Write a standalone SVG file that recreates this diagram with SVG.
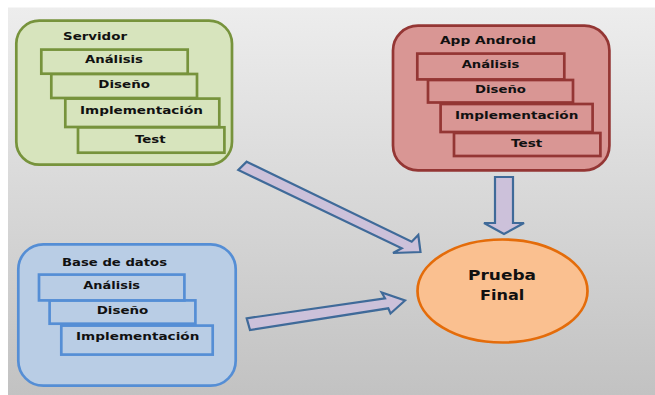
<svg xmlns="http://www.w3.org/2000/svg" width="655" height="395" viewBox="0 0 655 395">
  <defs>
    <linearGradient id="bg" x1="0" y1="0" x2="0" y2="1">
      <stop offset="0" stop-color="#ededed"/>
      <stop offset="1" stop-color="#c2c2c2"/>
    </linearGradient>
  </defs>
  <style>
    text { font-family: "DejaVu Sans", "Verdana", sans-serif; font-weight: bold; font-size: 11px; fill: #111111; }
    .c { text-anchor: middle; }
    .title { text-anchor: middle; }
    .green { fill: #d7e4bd; stroke: #77933c; stroke-width: 2.7; }
    .red { fill: #d99694; stroke: #943634; stroke-width: 2.7; }
    .blue { fill: #b9cde5; stroke: #558ed5; stroke-width: 2.7; }
    .arrow { fill: #ccc1da; stroke: #3f6a99; stroke-width: 2.2; stroke-linejoin: miter; }
    .big { font-size: 14px; text-anchor: middle; }
  </style>
  <rect x="8" y="7.5" width="647" height="387.5" fill="url(#bg)"/>

  <g id="servidor">
    <rect class="green" x="16.3" y="20.6" width="215.7" height="144.1" rx="23" ry="23"/>
    <text class="title" x="95" y="40" textLength="64" lengthAdjust="spacingAndGlyphs">Servidor</text>
    <rect class="green" x="78" y="127.3" width="146.4" height="25.4"/>
    <rect class="green" x="65.3" y="98.6" width="154" height="28.4"/>
    <rect class="green" x="51.3" y="74" width="145.7" height="24"/>
    <rect class="green" x="41.3" y="49.6" width="146.4" height="24.1"/>
    <text class="c" x="114" y="63.3" textLength="58" lengthAdjust="spacingAndGlyphs">Análisis</text>
    <text class="c" x="124.2" y="88.3" textLength="51.7" lengthAdjust="spacingAndGlyphs">Diseño</text>
    <text class="c" x="141.5" y="113.5" textLength="123" lengthAdjust="spacingAndGlyphs">Implementación</text>
    <text class="c" x="150.3" y="142.5" textLength="30.7" lengthAdjust="spacingAndGlyphs">Test</text>
  </g>

  <g id="app-android">
    <rect class="red" x="393" y="25.6" width="216.4" height="144.8" rx="25" ry="25"/>
    <text class="title" x="488" y="44.3" textLength="96" lengthAdjust="spacingAndGlyphs">App Android</text>
    <rect class="red" x="454" y="133" width="146.4" height="23"/>
    <rect class="red" x="440.6" y="104" width="152" height="28"/>
    <rect class="red" x="428" y="80" width="145" height="22.5"/>
    <rect class="red" x="417.3" y="53.6" width="147" height="25.8"/>
    <text class="c" x="490.5" y="68.3" textLength="57.7" lengthAdjust="spacingAndGlyphs">Análisis</text>
    <text class="c" x="500.5" y="92.7" textLength="51" lengthAdjust="spacingAndGlyphs">Diseño</text>
    <text class="c" x="516.7" y="119" textLength="123.3" lengthAdjust="spacingAndGlyphs">Implementación</text>
    <text class="c" x="526.7" y="147.3" textLength="31.3" lengthAdjust="spacingAndGlyphs">Test</text>
  </g>

  <g id="base-de-datos">
    <rect class="blue" x="18.3" y="244.3" width="217.4" height="141.4" rx="25" ry="25"/>
    <text class="title" x="114.5" y="266" textLength="105" lengthAdjust="spacingAndGlyphs">Base de datos</text>
    <rect class="blue" x="61.3" y="325.6" width="151.4" height="29"/>
    <rect class="blue" x="49.6" y="300.4" width="145.8" height="23.3"/>
    <rect class="blue" x="39" y="274.6" width="145.4" height="25.8"/>
    <text class="c" x="111.7" y="289" textLength="56.7" lengthAdjust="spacingAndGlyphs">Análisis</text>
    <text class="c" x="122.5" y="314" textLength="51.7" lengthAdjust="spacingAndGlyphs">Diseño</text>
    <text class="c" x="137.7" y="340" textLength="123.3" lengthAdjust="spacingAndGlyphs">Implementación</text>
  </g>

  <g id="prueba-final">
    <ellipse cx="502.5" cy="291" rx="85" ry="51.5" fill="#fac090" stroke="#e46c0a" stroke-width="2.7"/>
    <text class="big" x="502" y="280" textLength="68" lengthAdjust="spacingAndGlyphs">Prueba</text>
    <text class="big" x="502.2" y="300" textLength="44.3" lengthAdjust="spacingAndGlyphs">Final</text>
  </g>

  <g id="connectors">
    <polygon class="arrow" points="246.7,161.7 411.7,241.7 418.3,235 420.5,252 393,253 401.7,248.3 238.3,170"/>
    <polygon class="arrow" points="246.7,318.3 385,298.3 381.7,292.5 405,300.5 390.5,313.5 388.3,308.3 250,330"/>
    <polygon class="arrow" points="495,177 513,177 513,223 524,223 504,234 484,223 495,223"/>
  </g>
</svg>
